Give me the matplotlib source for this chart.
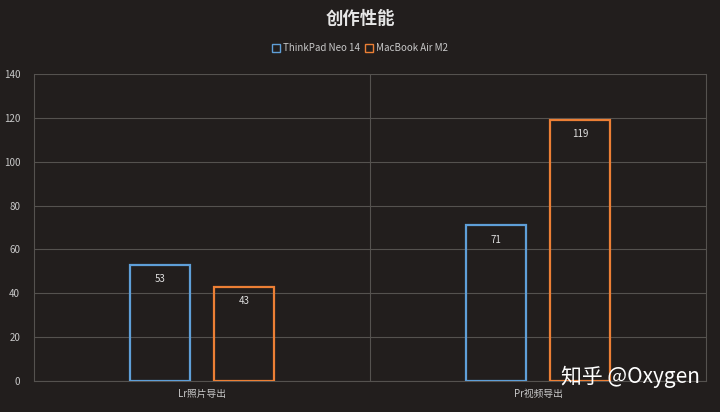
import numpy as np
import matplotlib
matplotlib.use("Agg")
import matplotlib.pyplot as plt

plt.rcParams['font.family'] = ['Noto Sans CJK SC', 'DejaVu Sans']

categories = ["Lr照片导出", "Pr视频导出"]
series_names = ["ThinkPad Neo 14", "MacBook Air M2"]
thinkpad = [53, 71]
macbook = [43, 119]
yticks = [0, 20, 40, 60, 80, 100, 120, 140]

bg = "#221e1d"
grid_col = "#55524f"
text_col = "#c8c8c8"
colors = ["#5f9fd8", "#ec7f35"]

fig = plt.figure(figsize=(7.2, 4.12), dpi=100, facecolor=bg)
ax = fig.add_axes([0.0472, 0.0752, 0.9334, 0.7452])
ax.set_facecolor(bg)

x = np.arange(len(categories))
width = 0.178
offset = 0.126
for vals, off, col, name in [(thinkpad, -offset, colors[0], series_names[0]),
                             (macbook, offset, colors[1], series_names[1])]:
    bars = ax.bar(x + off, vals, width, facecolor="none", edgecolor=col,
                  linewidth=1.6, label=name, zorder=3)
    for b, v in zip(bars, vals):
        ax.text(b.get_x() + b.get_width() / 2, v - 6.5, str(v), ha="center",
                va="center", color="#e0e0e0", fontsize=7, zorder=4)

ax.set_xlim(-0.5, 1.5)
ax.set_ylim(0, 140)
ax.set_yticks(yticks)
ax.set_xticks(x)
ax.set_xticklabels(categories)
ax.tick_params(axis="both", length=0, colors=text_col, labelsize=7)
ax.tick_params(axis="y", pad=10)
ax.tick_params(axis="x", pad=6)
ax.yaxis.grid(True, color=grid_col, linewidth=0.8, zorder=0)
ax.axvline(0.5, color=grid_col, linewidth=0.8, zorder=0)
for s in ["left", "right"]:
    ax.spines[s].set_color(grid_col)
    ax.spines[s].set_linewidth(0.8)
ax.spines["top"].set_visible(False)
ax.spines["bottom"].set_color(grid_col)
ax.spines["bottom"].set_linewidth(0.8)

fig.text(0.5, 0.955, "创作性能", ha="center", va="center", color="#e6e6e6",
         fontsize=12.5, fontweight="bold")
leg = fig.legend(loc="center", bbox_to_anchor=(0.5, 0.883), ncol=2,
                 frameon=False, fontsize=7, handlelength=0.8, handleheight=0.8,
                 columnspacing=0.6, handletextpad=0.3)
for t in leg.get_texts():
    t.set_color(text_col)
for h in leg.legend_handles:
    h.set_linewidth(1.0)

fig.text(0.972, 0.085, "知乎 @Oxygen", ha="right", va="center", color="white",
         fontsize=15)

fig.savefig("out.png", dpi=100, facecolor=bg)
